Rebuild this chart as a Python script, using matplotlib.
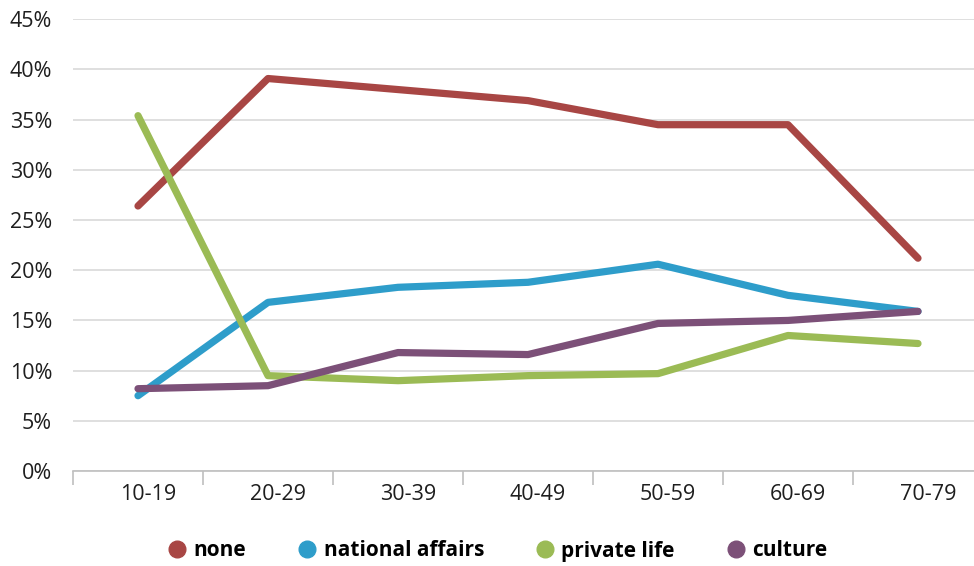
import matplotlib
matplotlib.use('Agg')
import matplotlib.pyplot as plt
from matplotlib.lines import Line2D
import numpy as np

# age groups and shares (%)
age_groups = ['10-19', '20-29', '30-39', '40-49', '50-59', '60-69', '70-79']
none_vals = [26.4, 39.1, 38.0, 36.9, 34.5, 34.5, 21.2]
national_vals = [7.5, 16.8, 18.3, 18.8, 20.6, 17.5, 15.9]
private_vals = [35.4, 9.5, 9.0, 9.5, 9.7, 13.5, 12.7]
culture_vals = [8.2, 8.5, 11.8, 11.6, 14.7, 15.0, 15.9]

series_names = ['none', 'national affairs', 'private life', 'culture']
series_colors = ['#A84644', '#2E9DCA', '#9BBB55', '#7C5078']
y_ticks = [0, 5, 10, 15, 20, 25, 30, 35, 40, 45]

plt.rcParams['font.family'] = ['Open Sans', 'DejaVu Sans']

W, H = 974, 566
fig = plt.figure(figsize=(W / 100, H / 100), dpi=100)
ax = fig.add_axes([73 / W, (H - 471) / H, 910 / W, (471 - 19.3) / H])

x = np.arange(len(age_groups))
for vals, name, col in zip([none_vals, national_vals, private_vals, culture_vals],
                           series_names, series_colors):
    ax.plot(x, vals, color=col, lw=5.2, solid_capstyle='round',
            solid_joinstyle='round', label=name, zorder=3)

ax.set_xlim(-0.5, len(age_groups) - 0.5)
ax.set_ylim(0, 45)
ax.set_yticks(y_ticks)
ax.set_yticklabels(['%d%%' % v for v in y_ticks], fontsize=15.5, color='#1E1E1E')
# labels in the reference sit ~10px right of the category centre (130px per category)
ax.set_xticks(x + 10 / 130)
ax.set_xticklabels(age_groups, fontsize=15.5, color='#1E1E1E')
ax.set_xticks(np.arange(len(age_groups) + 1) - 0.5, minor=True)

ax.grid(True, axis='y', color='#D9D9D9', lw=1.2, zorder=0)
ax.tick_params(axis='y', length=0, pad=15)
ax.tick_params(axis='x', which='major', length=0, pad=9)
ax.tick_params(axis='x', which='minor', length=10, color='#BFBFBF', width=1.2)
for s in ['top', 'right', 'left']:
    ax.spines[s].set_visible(False)
ax.spines['bottom'].set_color('#BFBFBF')
ax.spines['bottom'].set_linewidth(1.2)

handles = [Line2D([], [], marker='o', ls='none', color=c, markersize=12) for c in series_colors]
fig.legend(handles, series_names, loc='center', bbox_to_anchor=(498 / W, (H - 551) / H),
           ncol=4, frameon=False, handlelength=0.8, handletextpad=0.39, columnspacing=2.53,
           prop={'weight': 'bold', 'size': 15})

fig.savefig('out.png', dpi=100)
